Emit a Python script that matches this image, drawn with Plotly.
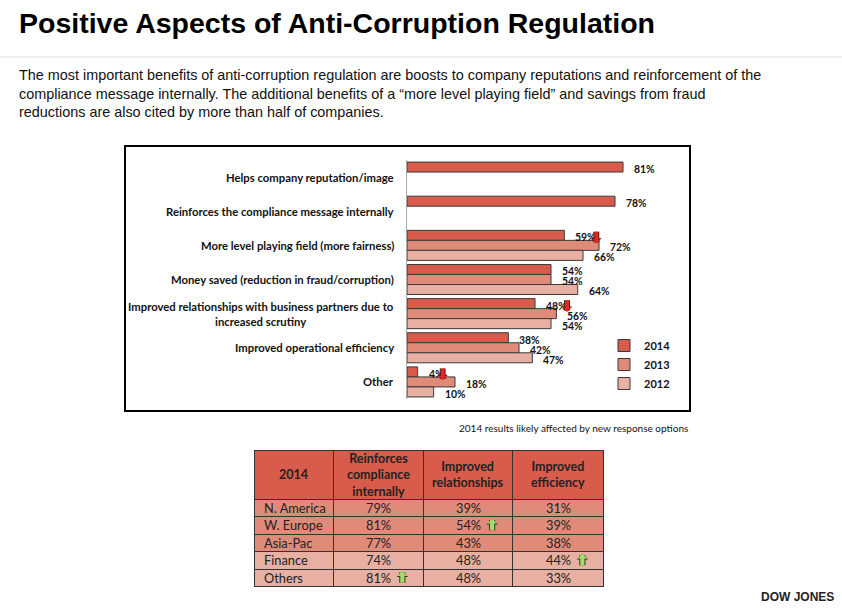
import plotly.graph_objects as go

W, H = 842, 608

# ---------------- data ----------------
categories = [
    "Helps company reputation/image",
    "Reinforces the compliance message internally",
    "More level playing field (more fairness)",
    "Money saved (reduction in fraud/corruption)",
    "Improved relationships with business partners due to<br>increased scrutiny",
    "Improved operational efficiency",
    "Other",
]
years = ["2014", "2013", "2012"]
v2014 = [81, 78, 59, 54, 48, 38, 4]
v2013 = [None, None, 72, 54, 56, 42, 18]
v2012 = [None, None, 66, 64, 54, 47, 10]
down_2014 = [False, False, True, False, True, False, True]

table_headers = ["2014", "Reinforces<br>compliance<br>internally",
                 "Improved<br>relationships", "Improved<br>efficiency"]
regions = ["N. America", "W. Europe", "Asia-Pac", "Finance", "Others"]
col_reinforce = [79, 81, 77, 74, 81]
col_relationships = [39, 54, 43, 48, 48]
col_efficiency = [31, 39, 38, 44, 33]
up_reinforce = [False, False, False, False, True]
up_relationships = [False, True, False, False, False]
up_efficiency = [False, False, False, True, False]

title = "Positive Aspects of Anti-Corruption Regulation"
paragraph = ("The most important benefits of anti-corruption regulation are boosts to company reputations and reinforcement of the<br>"
             "compliance message internally. The additional benefits of a \u201cmore level playing field\u201d and savings from fraud<br>"
             "reductions are also cited by more than half of companies.")
footnote = "2014 results likely affected by new response options"

# ---------------- style ----------------
C14, C13, C12 = "#D95B4B", "#E08B79", "#E7B0A2"
colors = [C14, C13, C12]
LBL_FONT = "Lato, Carlito, 'Open Sans', sans-serif"
BODY_FONT = "'Liberation Sans', Arial, Helvetica, sans-serif"


def px(x):
    return x / W


def py(y):
    return 1 - y / H


fig = go.Figure()
series = [v2014, v2013, v2012]
for name, vals, col in zip(years, series, colors):
    fig.add_trace(go.Bar(
        y=categories, x=vals, name=name, orientation="h",
        marker=dict(color=col, line=dict(color="#3a3a3a", width=1)),
        hoverinfo="skip",
    ))

annotations = []
# value labels
yshifts = [8, -2, -12]
for vals, ys in zip(series, yshifts):
    for cat, v in zip(categories, vals):
        if v is None:
            continue
        annotations.append(dict(
            x=v, y=cat, xref="x", yref="y", text=f"{v}%", showarrow=False,
            xanchor="left", yanchor="middle", xshift=9, yshift=ys,
            font=dict(family=LBL_FONT, size=10.4, color="#111", weight="bold"),
        ))

# category labels
for cat in categories:
    annotations.append(dict(
        x=0, y=cat, xref="paper", yref="y", text=cat, showarrow=False,
        xanchor="right", yanchor="middle", align="center", xshift=396,
        font=dict(family=LBL_FONT, size=11.3, color="#111", weight="bold"),
    ))

# red down arrows (2014 decreases)
for cat, v, flag in zip(categories, v2014, down_2014):
    if not flag:
        continue
    shift = 11 + 7 * len(f"{v}%")
    for w, s, c in [(5.8, 0.3, "#3a1a14"), (4.0, 0.34, "#E8261E")]:
        annotations.append(dict(
            x=v, y=cat, xref="x", yref="y", text="", showarrow=True,
            ax=0, ay=-13, axref="pixel", ayref="pixel",
            xshift=shift, yshift=2,
            arrowhead=1, arrowsize=s, arrowwidth=w, arrowcolor=c,
        ))

# page texts
annotations += [
    dict(x=px(17), y=py(23), xref="paper", yref="paper", text=f"<b>{title}</b>",
         showarrow=False, xanchor="left", yanchor="middle",
         font=dict(family=BODY_FONT, size=28.5, color="#000")),
    dict(x=px(17), y=py(65), xref="paper", yref="paper", text=paragraph,
         showarrow=False, xanchor="left", yanchor="top", align="left",
         font=dict(family=BODY_FONT, size=14.4, color="#111")),
    dict(x=px(690), y=py(428), xref="paper", yref="paper", text=footnote,
         showarrow=False, xanchor="right", yanchor="middle",
         font=dict(family=LBL_FONT, size=10, color="#111")),
    dict(x=px(836), y=py(597), xref="paper", yref="paper", text="<b>DOW JONES</b>",
         showarrow=False, xanchor="right", yanchor="middle",
         font=dict(family=BODY_FONT, size=12, color="#222")),
]

# ---------------- table ----------------
TBL_X0, TBL_X1, TBL_TOP = 254, 604, 450
HEAD_H, ROW_H = 49, 17.5
col_w = [79, 90, 89, 91]
scale = (TBL_X1 - TBL_X0) / sum(col_w)
edges = [TBL_X0]
for w in col_w:
    edges.append(edges[-1] + w * scale)
centers = [(a + b) / 2 for a, b in zip(edges[:-1], edges[1:])]
n_rows = len(regions)

columns = [regions,
           [f"{v}%" for v in col_reinforce],
           [f"{v}%" for v in col_relationships],
           [f"{v}%" for v in col_efficiency]]

row_fill = [C13, C13, C13, C12, C12]
# table grid / fills (texts are laid on top so they sit centred in the short rows)
fig.add_trace(go.Table(
    domain=dict(x=[px(TBL_X0), px(TBL_X1)],
                y=[py(TBL_TOP + HEAD_H + ROW_H * n_rows + 3), py(TBL_TOP)]),
    columnwidth=col_w,
    header=dict(
        values=["", "", "", ""],
        fill=dict(color=C14), line=dict(color="#333", width=1),
        height=HEAD_H, font=dict(family=LBL_FONT, size=10),
    ),
    cells=dict(
        values=[[""] * n_rows for _ in columns],
        fill=dict(color=[row_fill] * 4), line=dict(color="#333", width=1),
        height=ROW_H, font=dict(family=LBL_FONT, size=10),
    ),
))

# header texts
for cx, htxt in zip(centers, table_headers):
    annotations.append(dict(
        x=px(cx), y=py(TBL_TOP + HEAD_H / 2), xref="paper", yref="paper",
        text=f"<b>{htxt}</b>", showarrow=False, xanchor="center", yanchor="middle",
        align="center", font=dict(family=LBL_FONT, size=12.5, color="#222"),
    ))

# cell texts
for ci, col in enumerate(columns):
    for ri, txt in enumerate(col):
        cy = TBL_TOP + HEAD_H + ROW_H * (ri + 0.5)
        if ci == 0:
            xx, anchor = edges[0] + 8, "left"
        else:
            xx, anchor = centers[ci], "center"
        annotations.append(dict(
            x=px(xx), y=py(cy), xref="paper", yref="paper", text=txt,
            showarrow=False, xanchor=anchor, yanchor="middle",
            font=dict(family=LBL_FONT, size=12.8, color="#222"),
        ))

# green up arrows in table
for ci, ups in zip([1, 2, 3], [up_reinforce, up_relationships, up_efficiency]):
    for ri, u in enumerate(ups):
        if not u:
            continue
        cy = TBL_TOP + HEAD_H + ROW_H * (ri + 0.5)
        for w, s, c in [(6.2, 0.31, "#2d3a1c"), (4.2, 0.38, "#A3DC6E")]:
            annotations.append(dict(
                x=px(centers[ci] + 24), y=py(cy - 6.5), xref="paper", yref="paper",
                text="", showarrow=True, ax=0, ay=13, axref="pixel", ayref="pixel",
                arrowhead=1, arrowsize=s, arrowwidth=w, arrowcolor=c,
            ))

shapes = [
    dict(type="line", xref="paper", yref="paper", x0=0, x1=1, y0=py(57), y1=py(57),
         line=dict(color="#dddddd", width=1)),
    dict(type="rect", xref="paper", yref="paper", x0=px(125), x1=px(690),
         y0=py(411), y1=py(146), line=dict(color="#000", width=2)),
]

fig.update_layout(
    width=W, height=H, margin=dict(l=0, r=0, t=0, b=0),
    paper_bgcolor="white", plot_bgcolor="white",
    barmode="group", bargap=0.12, bargroupgap=0,
    xaxis=dict(domain=[px(407), px(407 + 2.667 * 100)], range=[0, 100],
               visible=False, fixedrange=True),
    yaxis=dict(domain=[py(399), py(160)], autorange="reversed",
               showticklabels=False, ticks="", showgrid=False,
               showline=True, linecolor="#aaaaaa", linewidth=1, fixedrange=True),
    legend=dict(x=px(604), y=py(331), xanchor="left", yanchor="top",
                font=dict(family=LBL_FONT, size=11, color="#111", weight="bold"),
                bgcolor="rgba(0,0,0,0)", tracegroupgap=0, itemclick=False),
    showlegend=True,
    annotations=annotations, shapes=shapes,
)

fig.write_html(
    "out.html",
    config={"displayModeBar": False},
    post_script="document.body.style.margin='0px';document.body.style.overflow='hidden';",
)
